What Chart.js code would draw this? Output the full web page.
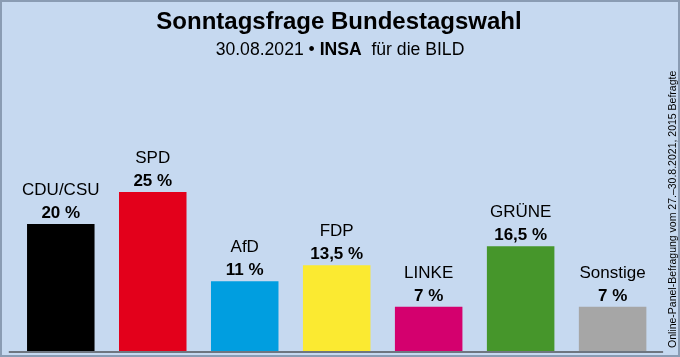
<!DOCTYPE html>
<html>
<head>
<meta charset="utf-8">
<script src="https://cdn.jsdelivr.net/npm/chart.js@4/dist/chart.umd.min.js"></script>
<style>
html,body{margin:0;padding:0;background:#c6d9f0;}
#wrap{width:680px;height:357px;position:relative;}
</style>
</head>
<body>
<div id="wrap"><canvas id="c" width="680" height="357"></canvas></div>
<script>
const categories = ['CDU/CSU','SPD','AfD','FDP','LINKE','GRÜNE','Sonstige'];
const values = [20, 25, 11, 13.5, 7, 16.5, 7];
const valueLabels = ['20 %','25 %','11 %','13,5 %','7 %','16,5 %','7 %'];
const barColors = ['#000000','#e3001b','#009ee0','#fbea31','#d4006e','#46962b','#a6a6a6'];
const titleText = 'Sonntagsfrage Bundestagswahl';
const subtitleParts = ['30.08.2021 • ', 'INSA', '  für die BILD'];
const sideNote = 'Online-Panel-Befragung vom 27.–30.8.2021, 2015 Befragte';

const FONT = '"Liberation Sans", Arial, sans-serif';

const deco = {
  id: 'deco',
  beforeDraw(chart) {
    const ctx = chart.ctx;
    ctx.save();
    ctx.fillStyle = '#c6d9f0';
    ctx.fillRect(0, 0, chart.width, chart.height);
    ctx.restore();
  },
  afterDatasetsDraw(chart) {
    const ctx = chart.ctx;
    const area = chart.chartArea;
    ctx.save();
    // baseline
    ctx.strokeStyle = '#6f7680';
    ctx.lineWidth = 2;
    ctx.beginPath();
    ctx.moveTo(area.left - 6, area.bottom + 0.5);
    ctx.lineTo(area.right + 4.5, area.bottom + 0.5);
    ctx.stroke();
    // labels
    const meta = chart.getDatasetMeta(0);
    ctx.fillStyle = '#000';
    ctx.textAlign = 'center';
    ctx.textBaseline = 'alphabetic';
    meta.data.forEach((bar, i) => {
      ctx.font = '17px ' + FONT;
      ctx.fillText(categories[i], bar.x, bar.y - 29);
      ctx.font = 'bold 17px ' + FONT;
      ctx.fillText(valueLabels[i], bar.x, bar.y - 6);
    });
    // title
    ctx.font = 'bold 24px ' + FONT;
    ctx.fillText(titleText, 339, 29);
    // subtitle with bold part
    const fonts = ['17.6px ' + FONT, 'bold 17.6px ' + FONT, '17.6px ' + FONT];
    let total = 0;
    const widths = subtitleParts.map((p, i) => { ctx.font = fonts[i]; const w = ctx.measureText(p).width; total += w; return w; });
    let x = 340 - total / 2;
    ctx.textAlign = 'left';
    subtitleParts.forEach((p, i) => { ctx.font = fonts[i]; ctx.fillText(p, x, 55); x += widths[i]; });
    // side note
    ctx.save();
    ctx.translate(676, 348);
    ctx.rotate(-Math.PI / 2);
    ctx.font = '10.5px ' + FONT;
    ctx.textAlign = 'left';
    ctx.fillText(sideNote, 0, 0);
    ctx.restore();
    // frame
    ctx.strokeStyle = '#8a9cb3';
    ctx.lineWidth = 2;
    ctx.strokeRect(1, 1, 678, 355);
    ctx.restore();
  }
};

new Chart(document.getElementById('c'), {
  type: 'bar',
  data: {
    labels: categories,
    datasets: [{
      data: values,
      backgroundColor: barColors,
      borderWidth: 0,
      categoryPercentage: 1,
      barPercentage: 0.734
    }]
  },
  options: {
    responsive: false,
    animation: false,
    layout: { padding: { left: 14.8, right: 21.4, top: 96.3, bottom: 5.5 } },
    plugins: { legend: { display: false }, tooltip: { enabled: false } },
    scales: {
      x: { display: false },
      y: { display: false, min: 0, max: 40 }
    }
  },
  plugins: [deco]
});
</script>
</body>
</html>
